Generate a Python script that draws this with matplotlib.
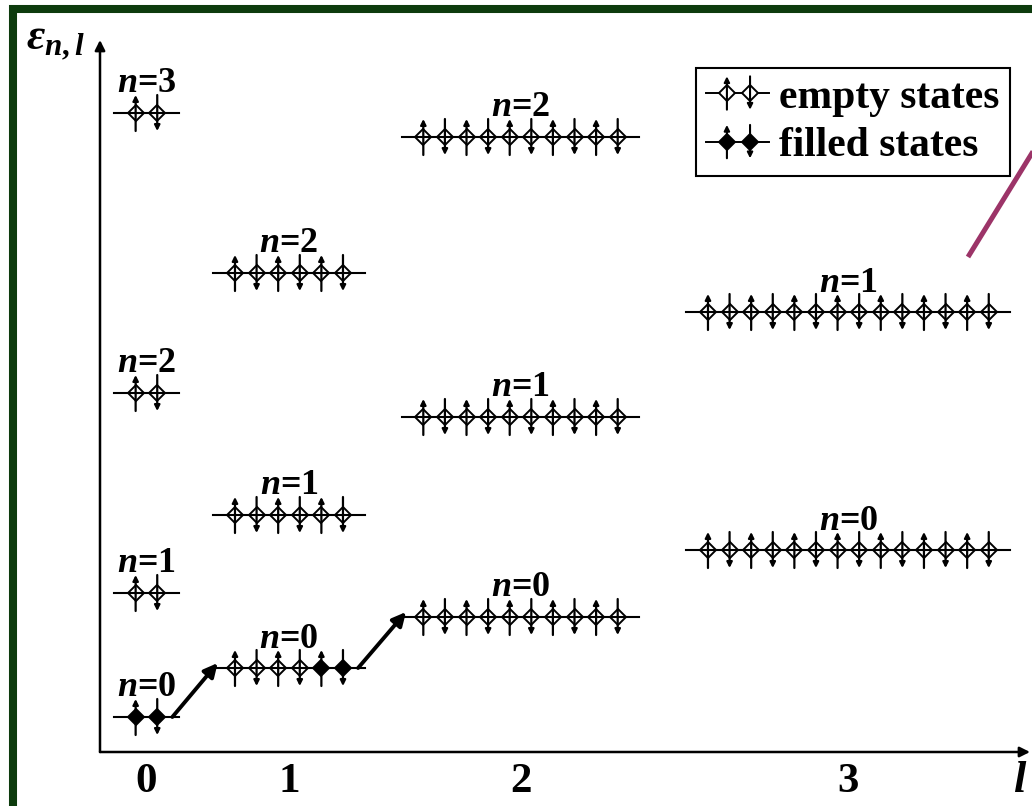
import matplotlib
matplotlib.use("Agg")
import matplotlib.pyplot as plt
from matplotlib.lines import Line2D
from matplotlib.patches import Rectangle, FancyArrowPatch
from matplotlib.legend_handler import HandlerBase

plt.rcParams['font.family'] = ['Liberation Serif', 'DejaVu Serif']
plt.rcParams['font.weight'] = 'bold'
plt.rcParams['mathtext.fontset'] = 'custom'
plt.rcParams['mathtext.it'] = 'Liberation Serif:italic:bold'
plt.rcParams['mathtext.rm'] = 'Liberation Serif:bold'
plt.rcParams['mathtext.bf'] = 'Liberation Serif:bold'

# orbital quantum number l and where each column sits on the l axis
l_values = [0, 1, 2, 3]
l_pos = [2.15, 8.75, 19.47, 34.65]

# energies eps_{n,l} for n = 0, 1, 2, ... (arbitrary units)
energy_l0 = [0.35, 1.59, 3.59, 6.39]
energy_l1 = [0.84, 2.37, 4.79]
energy_l2 = [1.35, 3.35, 6.15]
energy_l3 = [2.02, 4.40]
energies = [energy_l0, energy_l1, energy_l2, energy_l3]

# occupied states: (l, n) -> indices of filled states in that shell
filled = {(0, 0): [0, 1], (1, 0): [4, 5]}

# filling order arrows: (l_from, n_from, l_to, n_to)
transitions = [(0, 0, 1, 0), (1, 0, 2, 0)]

spin_half = 0.18  # half length of spin arrows


class StatePairHandler(HandlerBase):
    # legend entry: two diamonds with spin up / spin down arrows
    def create_artists(self, legend, orig_handle, xdescent, ydescent,
                       width, height, fontsize, trans):
        fc = orig_handle.get_markerfacecolor()
        y0 = height / 2 - ydescent
        x0 = -xdescent
        arts = [Line2D([x0, x0 + width], [y0, y0], color='k', lw=1.4,
                       transform=trans)]
        for k, frac in enumerate([0.33, 0.7]):
            x = x0 + frac * width
            arts.append(Line2D([x], [y0], marker='D', ms=8, mfc=fc, mec='k',
                               mew=1.4, ls='none', transform=trans))
            dy = 12
            tail, head = (y0 - dy, y0 + dy) if k == 0 else (y0 + dy, y0 - dy)
            arts.append(FancyArrowPatch((x, tail), (x, head), arrowstyle='-|>',
                                        mutation_scale=8, lw=1.5, color='k',
                                        shrinkA=0, shrinkB=0, transform=trans))
        return arts


fig = plt.figure(figsize=(10.32, 8.06), dpi=100)
ax = fig.add_axes([100 / 1032, 54 / 806, 930 / 1032, 712 / 806])
ax.set_xlim(0, 43.06)
ax.set_ylim(0, 7.12)
for s in ax.spines.values():
    s.set_visible(False)
ax.set_yticks([])
ax.set_xticks(l_pos, [str(l) for l in l_values])
ax.tick_params(axis='x', length=0, pad=8, labelsize=31)

# axes with arrow heads
ax.annotate('', xy=(0, 1), xytext=(0, 0), xycoords='axes fraction',
            arrowprops=dict(arrowstyle='-|>', lw=1.8, color='k',
                            mutation_scale=15, shrinkA=0, shrinkB=0))
ax.annotate('', xy=(1, 0), xytext=(0, 0), xycoords='axes fraction',
            arrowprops=dict(arrowstyle='-|>', lw=1.8, color='k',
                            mutation_scale=15, shrinkA=0, shrinkB=0))

ends = {}
for l, (xc, levels) in enumerate(zip(l_pos, energies)):
    nstates = 2 * (2 * l + 1)
    xs = [xc + i - (nstates - 1) / 2 for i in range(nstates)]
    half = (nstates - 1) / 2 + 1
    for n, e in enumerate(levels):
        ends[(l, n)] = (xc - half, xc + half, e)
        occ = filled.get((l, n), [])
        for i, x in enumerate(xs):
            ax.plot(x, e, marker='D', ms=8, mfc='k' if i in occ else 'white',
                    mec='k', mew=1.4, zorder=3)
            if i % 2 == 0:
                tail, head = e - spin_half, e + spin_half
            else:
                tail, head = e + spin_half, e - spin_half
            ax.annotate('', xy=(x, head), xytext=(x, tail),
                        arrowprops=dict(arrowstyle='-|>', lw=1.6, color='k',
                                        mutation_scale=8, shrinkA=0, shrinkB=0),
                        zorder=5)
        ax.plot([xc - half, xc + half], [e, e], color='k', lw=1.5, zorder=4)
        ax.annotate('$n$=' + str(n), xy=(xc, e), xytext=(0, 9),
                    textcoords='offset points', ha='center', va='bottom',
                    fontsize=26, fontweight='bold')

for l1, n1, l2, n2 in transitions:
    x_start = ends[(l1, n1)][1] - 0.3
    y_start = ends[(l1, n1)][2]
    x_end = ends[(l2, n2)][0] + 0.2
    y_end = ends[(l2, n2)][2] + 0.05
    ax.annotate('', xy=(x_end, y_end), xytext=(x_start, y_start),
                arrowprops=dict(arrowstyle='-|>', lw=2.8, color='k',
                                mutation_scale=20, shrinkA=0, shrinkB=0))

fig.text(1020 / 1032, 1 - 781 / 806, '$l$', ha='center', va='center', fontsize=32)
fig.text(55 / 1032, 1 - 42 / 806, r'$\varepsilon_{n,l}$', ha='center',
         va='center', fontsize=32)

handles = [Line2D([], [], marker='D', mfc='white', mec='k'),
           Line2D([], [], marker='D', mfc='k', mec='k')]
leg = ax.legend(handles, ['empty states', 'filled states'],
                handler_map={Line2D: StatePairHandler()},
                loc='upper right', bbox_to_anchor=(1010 / 1032, 1 - 68 / 806),
                bbox_transform=fig.transFigure, fontsize=30, frameon=True,
                fancybox=False, edgecolor='k', framealpha=1, handlelength=1.5,
                handletextpad=0.25, borderpad=0.25, labelspacing=0.25,
                borderaxespad=0)
leg.get_frame().set_linewidth(1.5)

# frame around the picture and the purple pointer line
fig.patches.append(Rectangle((13 / 1032, -2 / 806), 1040 / 1032, 799 / 806,
                             transform=fig.transFigure, fill=False,
                             edgecolor='#0d3b0d', lw=5.8))
fig.lines.append(Line2D([968 / 1032, 1045 / 1032],
                        [1 - 257 / 806, 1 - 132 / 806],
                        transform=fig.transFigure, color='#9c3468', lw=3.6,
                        solid_capstyle='butt'))

fig.savefig('out.png', dpi=100)
